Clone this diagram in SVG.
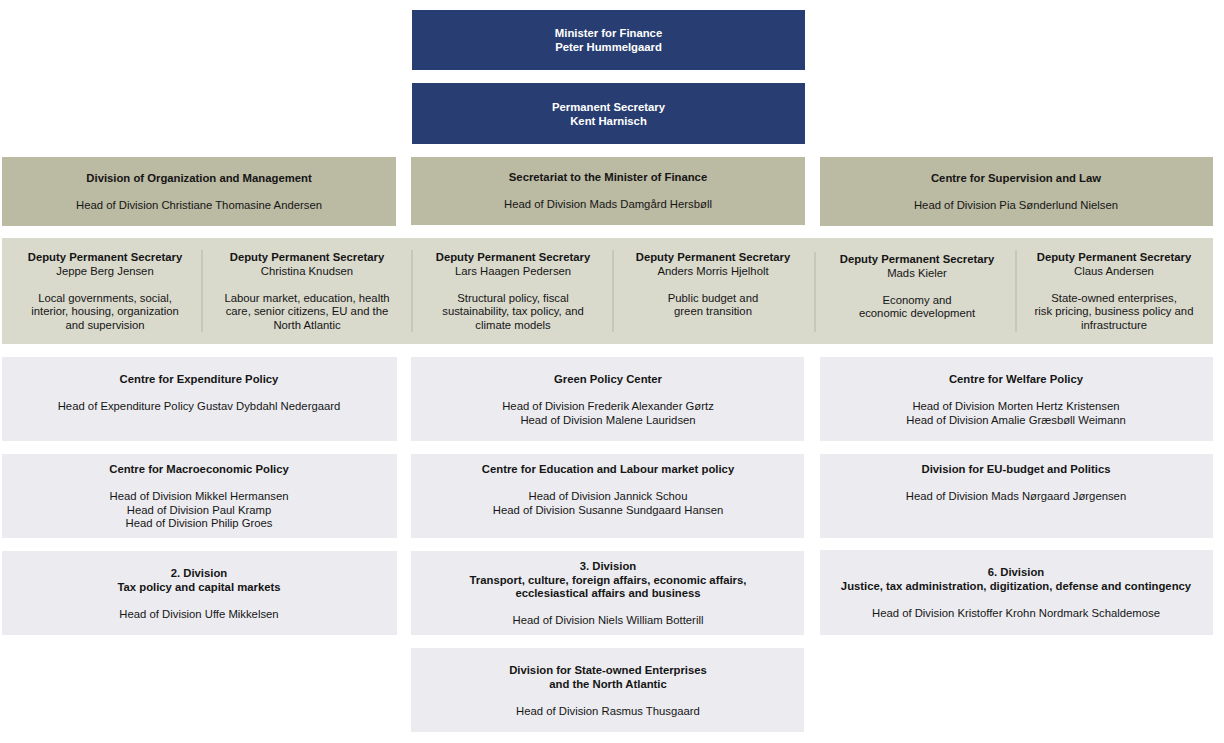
<svg xmlns="http://www.w3.org/2000/svg" width="1224" height="743" viewBox="0 0 1224 743">
<style>
text{font-family:"Liberation Sans",Arial,sans-serif;font-size:11.3px;text-anchor:middle;fill:#151515}
.b{font-weight:bold}
.w{fill:#ffffff}
.navy{fill:#283d71}
.tan{fill:#bbbaa2}
.band{fill:#d9d9cc}
.lt{fill:#ececf0}
.div{stroke:#b5b5a8;stroke-width:1}
</style>
<rect width="1224" height="743" fill="#ffffff"/>
<g id="minister"><rect class="navy" x="412" y="10" width="393" height="60"/>
<text class="b w" x="608.5" y="37">Minister for Finance</text><text class="b w" x="608.5" y="51">Peter Hummelgaard</text></g>
<g id="permsec"><rect class="navy" x="412" y="83" width="393" height="61"/>
<text class="b w" x="608.5" y="111">Permanent Secretary</text><text class="b w" x="608.5" y="125">Kent Harnisch</text></g>
<g id="org"><rect class="tan" x="2" y="157" width="394" height="69"/>
<text class="b" x="199" y="182">Division of Organization and Management</text><text x="199" y="209">Head of Division Christiane Thomasine Andersen</text></g>
<g id="secretariat"><rect class="tan" x="411" y="157" width="394" height="68"/>
<text class="b" x="608" y="181">Secretariat to the Minister of Finance</text><text x="608" y="208">Head of Division Mads Damgård Hersbøll</text></g>
<g id="supervision"><rect class="tan" x="820" y="157" width="393" height="69"/>
<text class="b" x="1016" y="182">Centre for Supervision and Law</text><text x="1016" y="209">Head of Division Pia Sønderlund Nielsen</text></g>
<g id="deputies"><rect class="band" x="2" y="238" width="1211" height="106"/>
<g id="connectors"><line class="div" x1="202" y1="250" x2="202" y2="332"/><line class="div" x1="412" y1="250" x2="412" y2="332"/><line class="div" x1="613" y1="250" x2="613" y2="332"/><line class="div" x1="815" y1="252" x2="815" y2="332"/><line class="div" x1="1016" y1="250" x2="1016" y2="332"/></g>
<g id="dep1"><text class="b" x="105" y="261">Deputy Permanent Secretary</text><text x="105" y="275">Jeppe Berg Jensen</text><text x="105" y="302">Local governments, social,</text><text x="105" y="315">interior, housing, organization</text><text x="105" y="329">and supervision</text></g>
<g id="dep2"><text class="b" x="307" y="261">Deputy Permanent Secretary</text><text x="307" y="275">Christina Knudsen</text><text x="307" y="302">Labour market, education, health</text><text x="307" y="315">care, senior citizens, EU and the</text><text x="307" y="329">North Atlantic</text></g>
<g id="dep3"><text class="b" x="513" y="261">Deputy Permanent Secretary</text><text x="513" y="275">Lars Haagen Pedersen</text><text x="513" y="302">Structural policy, fiscal</text><text x="513" y="315">sustainability, tax policy, and</text><text x="513" y="329">climate models</text></g>
<g id="dep4"><text class="b" x="713" y="261">Deputy Permanent Secretary</text><text x="713" y="275">Anders Morris Hjelholt</text><text x="713" y="302">Public budget and</text><text x="713" y="315">green transition</text></g>
<g id="dep5"><text class="b" x="917" y="263">Deputy Permanent Secretary</text><text x="917" y="277">Mads Kieler</text><text x="917" y="304">Economy and</text><text x="917" y="317">economic development</text></g>
<g id="dep6"><text class="b" x="1114" y="261">Deputy Permanent Secretary</text><text x="1114" y="275">Claus Andersen</text><text x="1114" y="302">State-owned enterprises,</text><text x="1114" y="315">risk pricing, business policy and</text><text x="1114" y="329">infrastructure</text></g>
</g>
<g id="expenditure"><rect class="lt" x="2" y="357" width="395" height="84"/>
<text class="b" x="199" y="383">Centre for Expenditure Policy</text><text x="199" y="410">Head of Expenditure Policy Gustav Dybdahl Nedergaard</text></g>
<g id="green"><rect class="lt" x="411" y="357" width="393" height="84"/>
<text class="b" x="608" y="383">Green Policy Center</text><text x="608" y="410">Head of Division Frederik Alexander Gørtz</text><text x="608" y="424">Head of Division Malene Lauridsen</text></g>
<g id="welfare"><rect class="lt" x="820" y="357" width="393" height="84"/>
<text class="b" x="1016" y="383">Centre for Welfare Policy</text><text x="1016" y="410">Head of Division Morten Hertz Kristensen</text><text x="1016" y="424">Head of Division Amalie Græsbøll Weimann</text></g>
<g id="macro"><rect class="lt" x="2" y="454" width="395" height="84"/>
<text class="b" x="199" y="473">Centre for Macroeconomic Policy</text><text x="199" y="500">Head of Division Mikkel Hermansen</text><text x="199" y="514">Head of Division Paul Kramp</text><text x="199" y="527">Head of Division Philip Groes</text></g>
<g id="education"><rect class="lt" x="411" y="454" width="393" height="84"/>
<text class="b" x="608" y="473">Centre for Education and Labour market policy</text><text x="608" y="500">Head of Division Jannick Schou</text><text x="608" y="514">Head of Division Susanne Sundgaard Hansen</text></g>
<g id="eubudget"><rect class="lt" x="820" y="454" width="393" height="84"/>
<text class="b" x="1016" y="473">Division for EU-budget and Politics</text><text x="1016" y="500">Head of Division Mads Nørgaard Jørgensen</text></g>
<g id="div2"><rect class="lt" x="2" y="551" width="395" height="84"/>
<text class="b" x="199" y="577">2. Division</text><text class="b" x="199" y="591">Tax policy and capital markets</text><text x="199" y="618">Head of Division Uffe Mikkelsen</text></g>
<g id="div3"><rect class="lt" x="411" y="551" width="393" height="84"/>
<text class="b" x="608" y="570">3. Division</text><text class="b" x="608" y="584">Transport, culture, foreign affairs, economic affairs,</text><text class="b" x="608" y="597">ecclesiastical affairs and business</text><text x="608" y="624">Head of Division Niels William Botterill</text></g>
<g id="div6"><rect class="lt" x="820" y="550" width="393" height="85"/>
<text class="b" x="1016" y="576">6. Division</text><text class="b" x="1016" y="590">Justice, tax administration, digitization, defense and contingency</text><text x="1016" y="617">Head of Division Kristoffer Krohn Nordmark Schaldemose</text></g>
<g id="stateowned"><rect class="lt" x="411" y="648" width="393" height="84"/>
<text class="b" x="608" y="674">Division for State-owned Enterprises</text><text class="b" x="608" y="688">and the North Atlantic</text><text x="608" y="715">Head of Division Rasmus Thusgaard</text></g>
</svg>
